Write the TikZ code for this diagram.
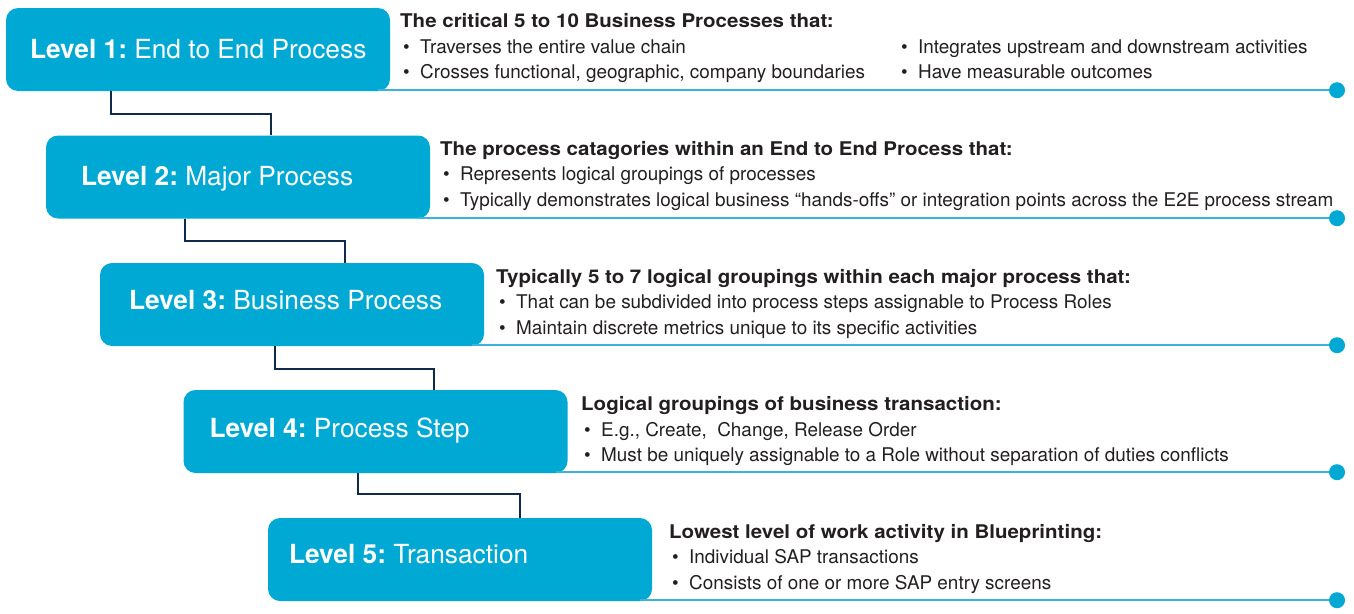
\documentclass[tikz,border=0pt]{standalone}
\usepackage{fontspec}
\setmainfont{TeX Gyre Heros}
\usepackage{graphicx}
\usepackage{tikz}
\usetikzlibrary{positioning}
\definecolor{lvlblue}{HTML}{00A8D4}
\definecolor{rulecol}{HTML}{3BB3DF}
\definecolor{linknavy}{HTML}{102A4C}
\definecolor{txtgray}{HTML}{231F20}
\newcommand{\itm}[1]{\makebox[20pt][l]{\hspace{3pt}\textbullet}#1}
\newcommand{\hd}[1]{\scalebox{1.085}[1]{\textbf{#1}}}

\begin{document}
\begin{tikzpicture}[x=1pt,y=-1pt,
    lvlbox/.style={rounded corners=12pt, fill=lvlblue, minimum width=384pt, minimum height=83pt, inner sep=0pt},
    lvltext/.style={anchor=base west, inner sep=0pt, text=white, font=\fontsize{26.3}{30}\selectfont\frenchspacing},
    descr/.style={anchor=base west, inner sep=0pt, text=txtgray, font=\fontsize{18.9}{25.5}\selectfont},
    rule/.style={rulecol, line width=1.5pt},
    dot/.style={circle, fill=lvlblue, minimum size=16pt, inner sep=0pt},
    link/.style={linknavy, line width=2pt}]
                    \useasboundingbox (0,0) rectangle (1354,613);
                    % level boxes
                    \node[lvlbox] (L1) at (198,49.5) {};
                    \node[lvlbox] (L2) at (238,177) {};
                    \node[lvlbox] (L3) at (292,304.5) {};
                    \node[lvlbox] (L4) at (375.5,431.5) {};
                    \node[lvlbox] (L5) at (460,559.5) {};
                    \node[lvltext] (T1) at ([shift={(24,9)}]L1.west) {\textbf{Level 1:} End to End Process};
                    \node[lvltext] (T2) at ([shift={(35,8.7)}]L2.west) {\textbf{Level 2:} Major Process};
                    \node[lvltext] (T3) at ([shift={(29,4.5)}]L3.west) {\textbf{Level 3:} Business Process};
                    \node[lvltext] (T4) at ([shift={(26,6)}]L4.west) {\textbf{Level 4:} Process Step};
                    \node[lvltext] (T5) at ([shift={(21,4)}]L5.west) {\textbf{Level 5:} Transaction};
                    % rules with end dots
                    \coordinate (r1) at (1337,90.2);
                    \coordinate (r2) at (1337,218.2);
                    \coordinate (r3) at (1337,345.2);
                    \coordinate (r4) at (1337,472.2);
                    \coordinate (r5) at (1337,600.2);
                    \draw[rule] ([xshift=-12pt]L1.south east |- r1) -- (r1);
                    \draw[rule] ([xshift=-12pt]L2.south east |- r2) -- (r2);
                    \draw[rule] ([xshift=-12pt]L3.south east |- r3) -- (r3);
                    \draw[rule] ([xshift=-12pt]L4.south east |- r4) -- (r4);
                    \draw[rule] ([xshift=-12pt]L5.south east |- r5) -- (r5);
                    \node[dot] (d1) at (r1) {};
                    \node[dot] (d2) at (r2) {};
                    \node[dot] (d3) at (r3) {};
                    \node[dot] (d4) at (r4) {};
                    \node[dot] (d5) at (r5) {};
                    % links between levels
                    \draw[link] ([xshift=105pt]L1.south west) -- ++(0,23) -| ([xshift=225pt]L2.north west);
                    \draw[link] ([xshift=139pt]L2.south west) -- ++(0,22) -| ([xshift=245pt]L3.north west);
                    \draw[link] ([xshift=175pt]L3.south west) -- ++(0,23) -| ([xshift=251pt]L4.north west);
                    \draw[link] ([xshift=175pt]L4.south west) -- ++(0,21) -| ([xshift=252pt]L5.north west);
                    % descriptions
                    \node[descr] (D1) at (400,27.5) {\begin{tabular}[t]{@{}l@{}}
                        \hd{The critical 5 to 10 Business Processes that:}\\
                        \itm{Traverses the entire value chain}\\
                        \itm{Crosses functional, geographic, company boundaries}\end{tabular}};
                    \node[descr] (D1b) at (898,53) {\begin{tabular}[t]{@{}l@{}}
                        \itm{Integrates upstream and downstream activities}\\
                        \itm{Have measurable outcomes}\end{tabular}};
                    \node[descr] (D2) at (440,155) {\begin{tabular}[t]{@{}l@{}}
                        \hd{The process catagories within an End to End Process that:}\\
                        \itm{Represents logical groupings of processes}\\
                        \itm{Typically demonstrates logical business “hands-offs” or integration points across the E2E process stream}\end{tabular}};
                    \node[descr] (D3) at (496,283) {\begin{tabular}[t]{@{}l@{}}
                        \hd{Typically 5 to 7 logical groupings within each major process that:}\\
                        \itm{That can be subdivided into process steps assignable to Process Roles}\\
                        \itm{Maintain discrete metrics unique to its specific activities}\end{tabular}};
                    \node[descr] (D4) at (581,410.5) {\begin{tabular}[t]{@{}l@{}}
                        \hd{Logical groupings of business transaction:}\\
                        \itm{E.g., Create,~ Change, Release Order}\\
                        \itm{Must be uniquely assignable to a Role without separation of duties conflicts}\end{tabular}};
                    \node[descr] (D5) at (669,538) {\begin{tabular}[t]{@{}l@{}}
                        \hd{Lowest level of work activity in Blueprinting:}\\
                        \itm{Individual SAP transactions}\\
                        \itm{Consists of one or more SAP entry screens}\end{tabular}};
                \end{tikzpicture}
\end{document}
